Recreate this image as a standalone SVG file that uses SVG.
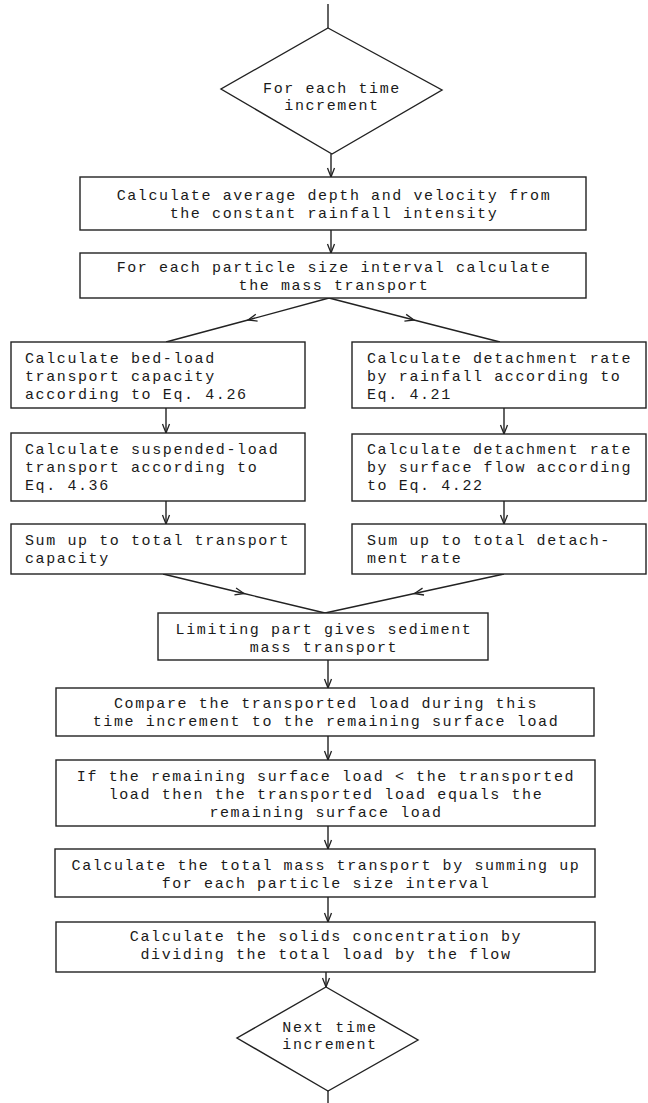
<svg xmlns="http://www.w3.org/2000/svg" width="648" height="1103" viewBox="0 0 648 1103">
<style>
.box{fill:#fff;stroke:#222;stroke-width:1.4}
.ln{fill:none;stroke:#222;stroke-width:1.4}
text{font-family:"Liberation Mono","DejaVu Sans Mono",monospace;font-size:15px;letter-spacing:1.6px;fill:#1a1a1a}
.c{text-anchor:middle}
</style>
<defs>
<marker id="ah" markerUnits="userSpaceOnUse" markerWidth="12" markerHeight="10" refX="0" refY="0" viewBox="-10 -5 12 10" orient="auto">
<path d="M-9,-3.5 L0,0 L-9,3.5" fill="none" stroke="#222" stroke-width="1.3"/>
</marker>
</defs>
<rect width="648" height="1103" fill="#fff"/>
<g id="connectors">
<line class="ln" x1="328" y1="4" x2="328" y2="28"/>
<line class="ln" x1="331" y1="154" x2="331" y2="177" marker-end="url(#ah)"/>
<line class="ln" x1="331" y1="230" x2="331" y2="253" marker-end="url(#ah)"/>
<path class="ln" d="M329,298 L248,320 L166,342" marker-mid="url(#ah)"/>
<path class="ln" d="M329,298 L414,320 L500,342" marker-mid="url(#ah)"/>
<line class="ln" x1="166" y1="408" x2="166" y2="433" marker-end="url(#ah)"/>
<line class="ln" x1="166" y1="501" x2="166" y2="524" marker-end="url(#ah)"/>
<line class="ln" x1="504" y1="408" x2="504" y2="434" marker-end="url(#ah)"/>
<line class="ln" x1="504" y1="501" x2="504" y2="524" marker-end="url(#ah)"/>
<path class="ln" d="M163,574 L244,593.5 L325,613" marker-mid="url(#ah)"/>
<path class="ln" d="M504,574 L414.5,593.5 L325,613" marker-mid="url(#ah)"/>
<line class="ln" x1="328" y1="660" x2="328" y2="688" marker-end="url(#ah)"/>
<line class="ln" x1="328" y1="736" x2="328" y2="760" marker-end="url(#ah)"/>
<line class="ln" x1="328" y1="826" x2="328" y2="849" marker-end="url(#ah)"/>
<line class="ln" x1="328" y1="897" x2="328" y2="922" marker-end="url(#ah)"/>
<line class="ln" x1="326" y1="972" x2="326" y2="987" marker-end="url(#ah)"/>
<line class="ln" x1="328" y1="1091" x2="328" y2="1103"/>
</g>
<g id="n-start">
<polygon class="box" points="328,28 442,90 332,154 221,89"/>
<text class="c" x="332" y="93">For each time</text>
<text class="c" x="332" y="110">increment</text>
</g>
<g id="n-depth">
<rect class="box" x="80" y="177" width="506" height="53"/>
<text class="c" x="334" y="200">Calculate average depth and velocity from</text>
<text class="c" x="334" y="218">the constant rainfall intensity</text>
</g>
<g id="n-particle">
<rect class="box" x="80" y="253" width="506" height="45"/>
<text class="c" x="334" y="272">For each particle size interval calculate</text>
<text class="c" x="334" y="290">the mass transport</text>
</g>
<g id="n-bedload">
<rect class="box" x="11" y="342" width="294" height="66"/>
<text x="25" y="363">Calculate bed-load</text>
<text x="25" y="381">transport capacity</text>
<text x="25" y="399">according to Eq. 4.26</text>
</g>
<g id="n-suspended">
<rect class="box" x="11" y="433" width="294" height="68"/>
<text x="25" y="454">Calculate suspended-load</text>
<text x="25" y="472">transport according to</text>
<text x="25" y="490">Eq. 4.36</text>
</g>
<g id="n-sumtransport">
<rect class="box" x="11" y="524" width="294" height="50"/>
<text x="25" y="545">Sum up to total transport</text>
<text x="25" y="563">capacity</text>
</g>
<g id="n-detrain">
<rect class="box" x="352" y="342" width="294" height="66"/>
<text x="367" y="363">Calculate detachment rate</text>
<text x="367" y="381">by rainfall according to</text>
<text x="367" y="399">Eq. 4.21</text>
</g>
<g id="n-detflow">
<rect class="box" x="352" y="434" width="294" height="67"/>
<text x="367" y="454">Calculate detachment rate</text>
<text x="367" y="472">by surface flow according</text>
<text x="367" y="490">to Eq. 4.22</text>
</g>
<g id="n-sumdetach">
<rect class="box" x="352" y="524" width="294" height="50"/>
<text x="367" y="545">Sum up to total detach-</text>
<text x="367" y="563">ment rate</text>
</g>
<g id="n-limiting">
<rect class="box" x="158" y="613" width="330" height="47"/>
<text class="c" x="324" y="634">Limiting part gives sediment</text>
<text class="c" x="324" y="652">mass transport</text>
</g>
<g id="n-compare">
<rect class="box" x="56" y="688" width="538" height="48"/>
<text class="c" x="326" y="708">Compare the transported load during this</text>
<text class="c" x="326" y="726">time increment to the remaining surface load</text>
</g>
<g id="n-if">
<rect class="box" x="56" y="760" width="539" height="66"/>
<text class="c" x="326" y="781">If the remaining surface load &lt; the transported</text>
<text class="c" x="326" y="799">load then the transported load equals the</text>
<text class="c" x="326" y="817">remaining surface load</text>
</g>
<g id="n-total">
<rect class="box" x="55" y="849" width="540" height="48"/>
<text class="c" x="326" y="870">Calculate the total mass transport by summing up</text>
<text class="c" x="326" y="888">for each particle size interval</text>
</g>
<g id="n-solids">
<rect class="box" x="56" y="922" width="539" height="50"/>
<text class="c" x="326" y="941">Calculate the solids concentration by</text>
<text class="c" x="326" y="959">dividing the total load by the flow</text>
</g>
<g id="n-next">
<polygon class="box" points="326,987 418,1040 328,1091 237,1038"/>
<text class="c" x="330" y="1032">Next time</text>
<text class="c" x="330" y="1049">increment</text>
</g>
</svg>
